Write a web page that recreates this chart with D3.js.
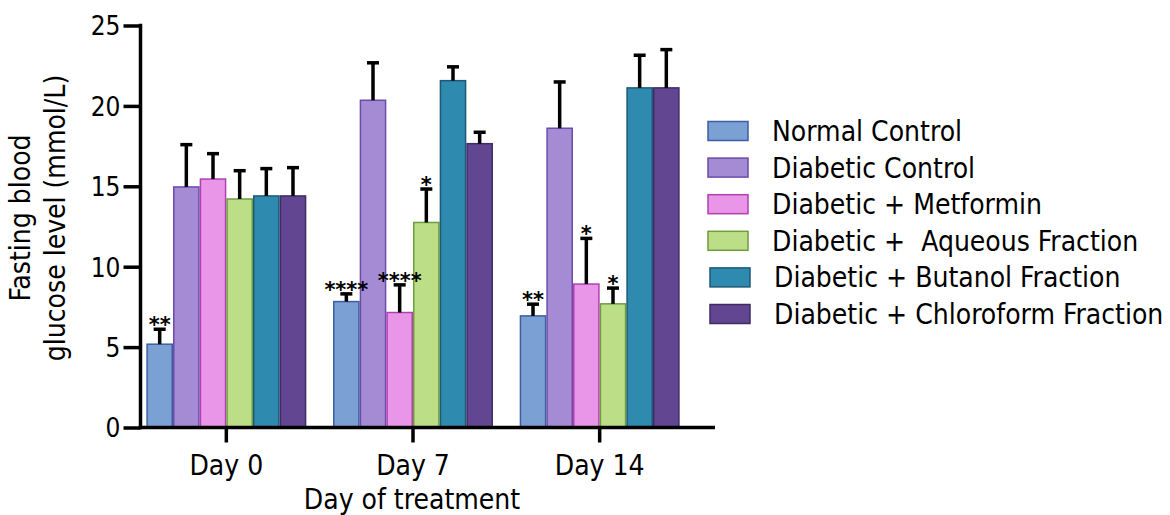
<!DOCTYPE html>
<html>
<head>
<meta charset="utf-8">
<script src="https://cdn.jsdelivr.net/npm/d3@7"></script>
<style>
  body { margin: 0; background: #fff; }
  svg { display: block; }
  text { font-family: "DejaVu Sans Condensed", "DejaVu Sans", sans-serif; fill: #000; }
</style>
</head>
<body>
<div id="chart"></div>
<script>
// ---- data ----
var days = ["Day 0", "Day 7", "Day 14"];
var groups = ["Normal Control", "Diabetic Control", "Diabetic + Metformin",
              "Diabetic +  Aqueous Fraction", "Diabetic + Butanol Fraction",
              "Diabetic + Chloroform Fraction"];
// mean per group, one array per day
var day0Mean  = [5.18, 14.96, 15.45, 14.21, 14.40, 14.40];
var day7Mean  = [7.83, 20.35, 7.15, 12.75, 21.57, 17.65];
var day14Mean = [6.94, 18.61, 8.92, 7.69, 21.12, 21.12];
// error (upper SD)
var day0Err  = [0.93, 2.63, 1.58, 1.76, 1.70, 1.76];
var day7Err  = [0.48, 2.33, 1.72, 2.08, 0.86, 0.71];
var day14Err = [0.73, 2.88, 2.84, 0.98, 2.03, 2.38];
// significance marks
var day0Sig  = ["**", "", "", "", "", ""];
var day7Sig  = ["****", "", "****", "*", "", ""];
var day14Sig = ["**", "", "*", "*", "", ""];
var yTicks = [0, 5, 10, 15, 20, 25];

var fills   = ["#7ba0d4", "#a48bd3", "#e996e9", "#bcde87", "#2e8aae", "#624691"];
var strokes = ["#3b5fa0", "#6b4bab", "#b040b0", "#6e9d3c", "#1d5a78", "#3f2c66"];

var rows = [];
[[day0Mean, day0Err, day0Sig], [day7Mean, day7Err, day7Sig], [day14Mean, day14Err, day14Sig]]
  .forEach(function(d, i) {
    groups.forEach(function(g, j) {
      rows.push({day: days[i], group: g, idx: j, mean: d[0][j], err: d[1][j], sig: d[2][j]});
    });
  });

var W = 1170, H = 515;
var svg = d3.select("#chart").append("svg").attr("width", W).attr("height", H);

var y = d3.scaleLinear().domain([0, 25]).range([427.5, 25.5]);
var x = d3.scaleBand().domain(days).range([133, 693]).paddingInner(0.143).paddingOuter(0.0715);
var xi = d3.scaleBand().domain(groups).range([0, x.bandwidth()]);

// bars
var bars = svg.append("g");
bars.selectAll("rect").data(rows).enter().append("rect")
  .attr("x", function(d) { return x(d.day) + xi(d.group) + 0.75; })
  .attr("y", function(d) { return y(d.mean); })
  .attr("width", xi.bandwidth() - 1.5)
  .attr("height", function(d) { return y(0) - y(d.mean); })
  .attr("fill", function(d) { return fills[d.idx]; })
  .attr("stroke", function(d) { return strokes[d.idx]; })
  .attr("stroke-width", 1.5);

// error bars
var eb = svg.append("g").attr("stroke", "#000").attr("stroke-width", 3.5);
rows.forEach(function(d) {
  var cx = x(d.day) + xi(d.group) + xi.bandwidth() / 2;
  eb.append("line").attr("x1", cx).attr("x2", cx)
    .attr("y1", y(d.mean)).attr("y2", y(d.mean + d.err));
  eb.append("line").attr("x1", cx - 6).attr("x2", cx + 6)
    .attr("y1", y(d.mean + d.err)).attr("y2", y(d.mean + d.err));
  if (d.sig) {
    svg.append("text").attr("x", cx).attr("y", y(d.mean + d.err) + 3)
      .attr("text-anchor", "middle").style("font-size", "21px")
      .style("font-family", "DejaVu Sans").style("font-weight", "bold").text(d.sig);
  }
});

// y axis
var yAxis = svg.append("g").attr("transform", "translate(140.5,0)")
  .call(d3.axisLeft(y).tickValues(yTicks).tickSize(17).tickPadding(3));
yAxis.select(".domain").remove();
yAxis.selectAll(".tick line").attr("stroke", "#000").attr("stroke-width", 3.5);
yAxis.selectAll(".tick text").style("font-size", "26px").attr("dy", "0.36em");
svg.append("line").attr("x1", 140.5).attr("x2", 140.5).attr("y1", y(25) - 1.75).attr("y2", y(0) + 1.75)
  .attr("stroke", "#000").attr("stroke-width", 3.5);

// x axis
var xAxis = svg.append("g").attr("transform", "translate(0," + y(0) + ")")
  .call(d3.axisBottom(x).tickSize(15).tickPadding(13));
xAxis.select(".domain").remove();
xAxis.selectAll(".tick line").attr("stroke", "#000").attr("stroke-width", 3.5);
xAxis.selectAll(".tick text").style("font-size", "28px");
svg.append("line").attr("x1", 138.75).attr("x2", 715).attr("y1", y(0)).attr("y2", y(0))
  .attr("stroke", "#000").attr("stroke-width", 3.5);

svg.append("text").attr("x", 412).attr("y", 509).attr("text-anchor", "middle")
  .style("font-size", "28px").text("Day of treatment");

// y title
var yt = svg.append("text").attr("transform", "translate(0,218) rotate(-90)")
  .attr("text-anchor", "middle").style("font-size", "28px");
yt.append("tspan").attr("x", 0).attr("y", 30).text("Fasting blood");
yt.append("tspan").attr("x", 0).attr("y", 65).text("glucose level (mmol/L)");

// legend
var lg = svg.append("g").attr("transform", "translate(708,131)");
groups.forEach(function(g, i) {
  var row = lg.append("g").attr("transform", "translate(" + (i >= 4 ? 2 : 0) + "," + (i * 36.6) + ")");
  row.append("rect").attr("x", 0).attr("y", -9.5).attr("width", 40).attr("height", 19)
    .attr("fill", fills[i]).attr("stroke", strokes[i]).attr("stroke-width", 1.5);
  row.append("text").attr("x", 64).attr("y", 0).attr("dy", "0.36em")
    .style("font-size", "28px").style("white-space", "pre").text(g);
});
</script>
</body>
</html>
